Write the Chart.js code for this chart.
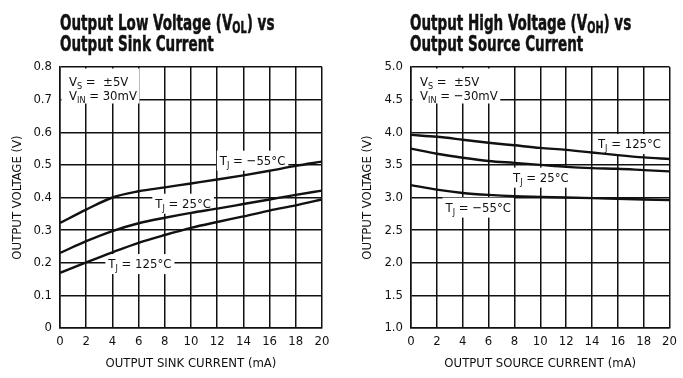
<!DOCTYPE html>
<html>
<head>
<meta charset="utf-8">
<script src="https://cdn.jsdelivr.net/npm/chart.js@4.4.1/dist/chart.umd.min.js"></script>
<style>
  html, body { margin: 0; padding: 0; background: #fff; }
  body { width: 683px; height: 378px; position: relative; overflow: hidden; }
  .box { position: absolute; top: 0; height: 378px; }
  .ttl {
    position: absolute; top: 13px; margin: 0;
    font-family: "Liberation Sans Narrow", "DejaVu Sans Condensed", sans-serif;
    font-weight: bold; font-size: 21px; line-height: 21px; color: #111;
    -webkit-text-stroke: 0.5px #111;
    transform-origin: 0 0; transform: scaleX(0.715); white-space: nowrap;
  }
  .ttl sub { font-size: 15px; vertical-align: -3px; line-height: 0; }
</style>
</head>
<body>
<div class="box" style="left:0;width:341px"><canvas id="low" width="341" height="378"></canvas></div>
<div class="box" style="left:341px;width:342px"><canvas id="high" width="342" height="378"></canvas></div>
<div class="ttl" style="left:60px">Output Low Voltage (V<sub>OL</sub>) vs<br>Output Sink Current</div>
<div class="ttl" style="left:410px">Output High Voltage (V<sub>OH</sub>) vs<br>Output Source Current</div>
<script>
// current (mA)
var current = [0, 2, 4, 6, 8, 10, 12, 14, 16, 18, 20];

// output low voltage (V) vs sink current
var volM55 = [0.322, 0.363, 0.400, 0.419, 0.431, 0.443, 0.455, 0.468, 0.482, 0.497, 0.510];
var vol25  = [0.230, 0.266, 0.297, 0.321, 0.338, 0.353, 0.366, 0.380, 0.394, 0.408, 0.421];
var vol125 = [0.169, 0.201, 0.232, 0.261, 0.285, 0.307, 0.325, 0.342, 0.360, 0.376, 0.394];

// output high voltage (V) vs source current
var vohM55 = [3.19, 3.12, 3.07, 3.04, 3.02, 3.01, 3.00, 2.99, 2.98, 2.97, 2.96];
var voh25  = [3.75, 3.67, 3.61, 3.56, 3.53, 3.50, 3.47, 3.45, 3.44, 3.42, 3.40];
var voh125 = [3.96, 3.93, 3.886, 3.84, 3.80, 3.76, 3.73, 3.69, 3.65, 3.615, 3.59];

var FONT = '"Liberation Sans Narrow", "DejaVu Sans Condensed", sans-serif';
var FS = 13;

// rich text: [text, isSub] pairs
function richWidth(ctx, parts, size) {
  var w = 0;
  parts.forEach(function(p) {
    ctx.font = (p[1] ? Math.round(size * 0.72) : size) + 'px ' + FONT;
    w += ctx.measureText(p[0]).width;
  });
  return w;
}
function drawRich(ctx, parts, x, y, size) {
  parts.forEach(function(p) {
    var s = p[1] ? Math.round(size * 0.72) : size;
    ctx.font = s + 'px ' + FONT;
    ctx.fillText(p[0], x, p[1] ? y + 3 : y);
    x += ctx.measureText(p[0]).width;
  });
}

// labels sit on white boxes above the grid
var notes = {
  id: 'notes',
  beforeDatasetsDraw: function(chart, args, opts) {
    var ctx = chart.ctx, a = chart.chartArea;
    var sx = chart.scales.x, sy = chart.scales.y;
    ctx.save();
    ctx.textBaseline = 'alphabetic';
    var iw = Math.max(richWidth(ctx, opts.info[0], FS), richWidth(ctx, opts.info[1], FS));
    ctx.fillStyle = '#fff';
    ctx.fillRect(a.left + 1.5, a.top + 1.5, iw + 10, 35);
    ctx.fillStyle = '#111';
    drawRich(ctx, opts.info[0], a.left + 9, a.top + 19, FS);
    drawRich(ctx, opts.info[1], a.left + 9, a.top + 33, FS);
    opts.curves.forEach(function(c) {
      var w = richWidth(ctx, c.parts, FS);
      var cx = sx.getPixelForValue(c.x), cy = sy.getPixelForValue(c.y);
      ctx.fillStyle = '#fff';
      ctx.fillRect(cx - w / 2 - 3, cy - 9, w + 6, 20);
      ctx.fillStyle = '#111';
      drawRich(ctx, c.parts, cx - w / 2, cy + 5, FS);
    });
    ctx.restore();
  }
};

function makeChart(id, sets, yMin, yMax, yStep, yFmt, xTitle, yAxisW, padRight, yTitlePad, noteOpts) {
  var line = function(d) {
    return { data: d, borderColor: '#111', borderWidth: 2.4, pointRadius: 0, cubicInterpolationMode: 'monotone', fill: false };
  };
  return new Chart(document.getElementById(id), {
    type: 'line',
    data: { labels: current, datasets: sets.map(line) },
    options: {
      responsive: false,
      animation: false,
      layout: { padding: { left: 0, right: padRight, top: 67, bottom: 0 } },
      plugins: { legend: { display: false }, tooltip: { enabled: false }, notes: noteOpts },
      scales: {
        x: {
          type: 'linear', min: 0, max: 20,
          afterFit: function(s) { s.height = 50; },
          grid: { color: '#111', lineWidth: 1.5, drawTicks: false },
          border: { color: '#111', width: 1.5 },
          ticks: { stepSize: 2, color: '#111', padding: 6, font: { family: FONT, size: FS } },
          title: { display: true, text: xTitle, color: '#111', padding: { top: 0, bottom: 7 }, font: { family: FONT, size: FS } }
        },
        y: {
          min: yMin, max: yMax,
          afterFit: function(s) { s.width = yAxisW; },
          grid: { color: '#111', lineWidth: 1.5, drawTicks: false },
          border: { color: '#111', width: 1.5 },
          ticks: { stepSize: yStep, color: '#111', padding: 8, font: { family: FONT, size: FS }, callback: yFmt },
          title: { display: true, text: 'OUTPUT VOLTAGE (V)', color: '#111', padding: { top: yTitlePad, bottom: 0 }, font: { family: FONT, size: FS } }
        }
      }
    },
    plugins: [notes]
  });
}

makeChart('low', [volM55, vol25, vol125], 0, 0.8, 0.1,
  function(v) { return v === 0 ? '0' : v.toFixed(1); },
  'OUTPUT SINK CURRENT (mA)', 60, 19, 10, {
    info: [[['V'], ['S', 1], [' =  \u00b15V']], [['V'], ['IN', 1], [' = 30mV']]],
    curves: [
      { parts: [['T'], ['J', 1], [' = \u221255\u00b0C']], x: 14.7, y: 0.516 },
      { parts: [['T'], ['J', 1], [' = 25\u00b0C']], x: 9.4, y: 0.384 },
      { parts: [['T'], ['J', 1], [' = 125\u00b0C']], x: 6.1, y: 0.199 }
    ]
  });

makeChart('high', [vohM55, voh25, voh125], 1, 5, 0.5,
  function(v) { return v.toFixed(1); },
  'OUTPUT SOURCE CURRENT (mA)', 70, 10, 19, {
    info: [[['V'], ['S', 1], [' =  \u00b15V']], [['V'], ['IN', 1], [' = \u221230mV']]],
    curves: [
      { parts: [['T'], ['J', 1], [' = 125\u00b0C']], x: 16.9, y: 3.835 },
      { parts: [['T'], ['J', 1], [' = 25\u00b0C']], x: 10.05, y: 3.32 },
      { parts: [['T'], ['J', 1], [' = \u221255\u00b0C']], x: 5.2, y: 2.86 }
    ]
  });
</script>
</body>
</html>
